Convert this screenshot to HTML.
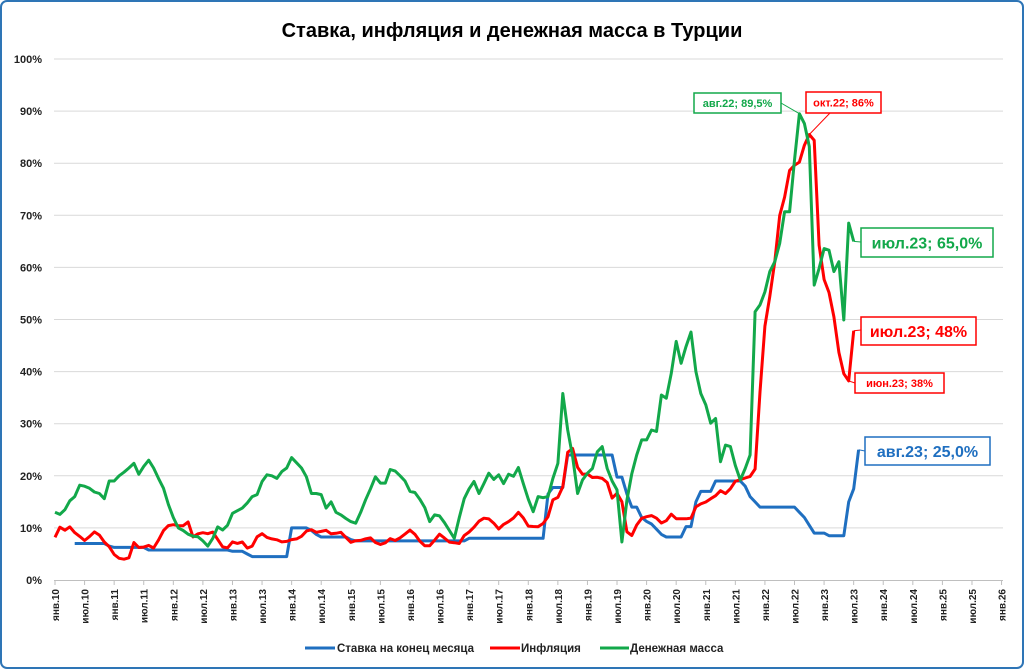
<!DOCTYPE html>
<html><head><meta charset="utf-8"><style>
body{margin:0;background:#fff;}
svg{display:block;font-family:"Liberation Sans",sans-serif;}
</style></head><body>
<svg id="chart" width="1024" height="670" viewBox="0 0 1024 670" xmlns="http://www.w3.org/2000/svg">
<rect x="1" y="1" width="1022" height="667" rx="6" fill="#fff" stroke="#2E75B6" stroke-width="2"/>
<text x="512" y="37" text-anchor="middle" font-size="20" font-weight="bold" fill="#000">Ставка, инфляция и денежная масса в Турции</text>
<g id="grid"></g>
<g id="yaxis"></g>
<g id="xaxis"></g>
<g id="series"></g>
<g id="labels"></g>
<g>
<g><line x1="305" y1="648" x2="335" y2="648" stroke="#1F6FC0" stroke-width="3"/><text x="337" y="652" font-size="11.5" font-weight="bold" fill="#222">Ставка  на конец месяца</text></g>
<g><line x1="490" y1="648" x2="520" y2="648" stroke="#FF0000" stroke-width="3"/><text x="521" y="652" font-size="11.5" font-weight="bold" fill="#222">Инфляция</text></g>
<g><line x1="600" y1="648" x2="629" y2="648" stroke="#12A84A" stroke-width="3"/><text x="630" y="652" font-size="11.5" font-weight="bold" fill="#222">Денежная масса</text></g>
</g>
</svg>
<script>
const yTicks=[0,10,20,30,40,50,60,70,80,90,100];
const xTickLabels=[];
for(let y=10;y<=26;y++){xTickLabels.push('янв.'+y);if(y<26)xTickLabels.push('июл.'+y);}
const rate=[null,null,null,null,7,7,7,7,7,7,7,6.5,
6.25,6.25,6.25,6.25,6.25,6.25,6.25,5.75,5.75,5.75,5.75,5.75,
5.75,5.75,5.75,5.75,5.75,5.75,5.75,5.75,5.75,5.75,5.75,5.75,
5.5,5.5,5.5,5,4.5,4.5,4.5,4.5,4.5,4.5,4.5,4.5,
10,10,10,10,9.5,8.75,8.25,8.25,8.25,8.25,8.25,8.25,
7.75,7.5,7.5,7.5,7.5,7.5,7.5,7.5,7.5,7.5,7.5,7.5,
7.5,7.5,7.5,7.5,7.5,7.5,7.5,7.5,7.5,7.5,7.5,7.5,
8,8,8,8,8,8,8,8,8,8,8,8,
8,8,8,8,16.5,17.75,17.75,17.75,24,24,24,24,
24,24,24,24,24,24,19.75,19.75,16.5,14,14,12,
11.25,10.75,9.75,8.75,8.25,8.25,8.25,8.25,10.25,10.25,15,17,
17,17,19,19,19,19,19,19,18,16,15,14,
14,14,14,14,14,14,14,13,12,10.5,9,9,
9,8.5,8.5,8.5,8.5,15,17.5,25];
const inflation=[8.19,10.13,9.56,10.19,9.10,8.37,7.58,8.33,9.24,8.62,7.29,6.40,
4.90,4.16,3.99,4.26,7.17,6.24,6.31,6.65,6.15,7.66,9.48,10.45,
10.61,10.43,10.43,11.14,8.28,8.87,9.07,8.88,9.19,7.80,6.37,6.16,
7.31,7.03,7.29,6.13,6.51,8.30,8.88,8.17,7.88,7.71,7.32,7.40,
7.75,7.89,8.39,9.38,9.66,9.16,9.32,9.54,8.86,8.96,9.15,8.17,
7.24,7.55,7.61,7.91,8.09,7.20,6.81,7.14,7.95,7.58,8.10,8.81,
9.58,8.78,7.46,6.57,6.58,7.64,8.79,8.05,7.28,7.16,7.00,8.53,
9.22,10.13,11.29,11.87,11.72,10.90,9.79,10.68,11.20,11.90,12.98,11.92,
10.35,10.26,10.23,10.85,12.15,15.39,15.85,17.90,24.52,25.24,21.62,20.30,
20.35,19.67,19.71,19.50,18.71,15.72,16.65,15.01,9.26,8.55,10.56,11.84,
12.15,12.37,11.86,10.94,11.39,12.62,11.76,11.77,11.75,11.89,14.03,14.60,
14.97,15.61,16.19,17.14,16.59,17.53,18.95,19.25,19.58,19.89,21.31,36.08,
48.69,54.44,61.14,69.97,73.50,78.62,79.60,80.21,83.45,85.51,84.39,64.27,
57.68,55.18,50.51,43.68,39.59,38.21,47.83];
const money=[13,12.6,13.5,15.2,16,18.2,18,17.6,16.9,16.6,15.6,19,
19,20,20.7,21.5,22.4,20.3,21.8,23,21.5,19.5,17.6,14.5,
12,10,9.5,8.8,8.4,8.3,7.5,6.5,8,10.2,9.6,10.5,
12.8,13.3,13.8,14.8,16,16.4,18.9,20.2,20,19.5,20.8,21.5,
23.5,22.5,21.5,19.8,16.6,16.6,16.4,13.8,15,13,12.5,11.8,
11.2,10.9,13,15.4,17.5,19.8,18.6,18.6,21.2,20.9,20,19,
17,16.8,15.5,13.9,11.2,12.5,12.3,11,9.5,8,12,15.6,
17.5,18.9,16.6,18.5,20.5,19.3,20.2,18.5,20.3,19.9,21.6,18.5,
15.5,13.1,16,15.8,16,19.5,22.4,35.8,28.8,23.7,16.6,19.2,
20.5,21.4,24.6,25.6,21.4,19,17.3,7.3,15.3,20.4,24,26.9,
26.9,28.8,28.5,35.5,34.9,39.7,45.8,41.6,44.8,47.6,40,35.8,
33.6,30.1,31,22.7,25.9,25.6,22,19.2,21.4,24,51.5,52.8,
55.3,59.2,61.1,64.6,70.7,70.7,80.6,89.5,87.6,83.2,56.6,59.8,
63.6,63.3,59.2,61.1,49.9,68.5,65];

const NS='http://www.w3.org/2000/svg';
const X0=55,DX=4.93,Y0=580,DY=5.21;
function xs(i){return X0+i*DX;}
function ys(v){return Y0-v*DY;}
function mk(tag,attrs,parent){const e=document.createElementNS(NS,tag);for(const k in attrs)e.setAttribute(k,attrs[k]);parent.appendChild(e);return e;}
const grid=document.getElementById('grid'),yax=document.getElementById('yaxis'),xax=document.getElementById('xaxis'),ser=document.getElementById('series'),lab=document.getElementById('labels');
yTicks.forEach(t=>{
  if(t>0){const g=mk('line',{x1:54,x2:1003,y1:ys(t),y2:ys(t),stroke:'#d9d9d9','stroke-width':1},grid);
  
  }
  const tx=mk('text',{x:42,y:ys(t)+4,'text-anchor':'end','font-size':11,'font-weight':'bold',fill:'#222'},yax);
  tx.textContent=t+'%';
  
  
});
const ax=mk('line',{x1:54,x2:1003,y1:580.5,y2:580.5,stroke:'#bfbfbf','stroke-width':1},xax);


xTickLabels.forEach((l,k)=>{
  const x=xs(k*6);
  const tk=mk('line',{x1:x,x2:x,y1:580,y2:585,stroke:'#bfbfbf'},xax);
  
  
  const t=mk('text',{x:0,y:0,'text-anchor':'end','font-size':10,'font-weight':'bold',fill:'#222',transform:'translate('+(x+4)+',589) rotate(-90)'},xax);
  t.textContent=l;
  
  
});
function line(arr,color,name){
  let d='';let pen=false;
  arr.forEach((v,i)=>{if(v==null){pen=false;return;}d+=(pen?'L':'M')+xs(i).toFixed(1)+' '+ys(v).toFixed(1)+' ';pen=true;});
  const p=mk('path',{d:d,fill:'none',stroke:color,'stroke-width':3,'stroke-linejoin':'round'},ser);
  
  
}
line(rate,'#1F6FC0','rate-line');
line(inflation,'#FF0000','inflation-line');
line(money,'#12A84A','money-supply-line');
function callout(i,v,bx,by,bw,bh,text,color,fs,name,ax2,ay2){
  const l=mk('polyline',{points:ax2+','+ay2+' '+xs(i)+','+ys(v),fill:'none',stroke:color,'stroke-width':1},lab);
  
  
  const r=mk('rect',{x:bx,y:by,width:bw,height:bh,fill:'#fff',stroke:color,'stroke-width':1.5},lab);
  
  
  const t=mk('text',{x:bx+bw/2,y:by+bh/2+fs*0.36,'text-anchor':'middle','font-size':fs,'font-weight':'bold',fill:color},lab);
  t.textContent=text;
  
  
}
callout(151,money[151],694,93,87,20,'авг.22; 89,5%','#12A84A',11,'money-peak-label',781,103);
callout(153,inflation[153],806,92,75,21,'окт.22; 86%','#FF0000',11,'inflation-peak-label',830,113);
callout(162,money[162],861,228,132,29,'июл.23; 65,0%','#12A84A',16,'money-last-label',861,242);
callout(162,inflation[162],861,317,115,28,'июл.23; 48%','#FF0000',16,'inflation-last-label',861,330);
callout(161,inflation[161],855,373,89,20,'июн.23; 38%','#FF0000',11,'inflation-june-label',855,383);
callout(163,rate[163],865,437,125,28,'авг.23; 25,0%','#1F6FC0',16,'rate-last-label',865,451);
</script>
</body></html>
